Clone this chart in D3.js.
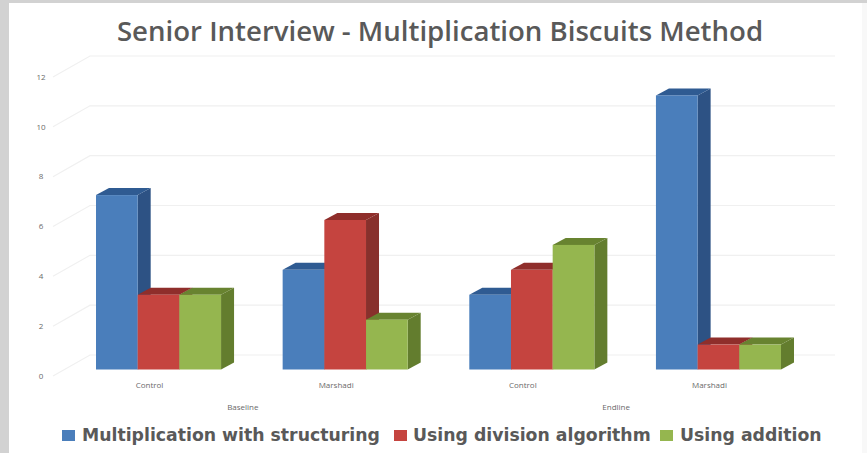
<!DOCTYPE html>
<html>
<head>
<meta charset="utf-8">
<script src="https://cdn.jsdelivr.net/npm/d3@7"></script>
<style>
  html, body { margin: 0; padding: 0; background: #fff; }
  svg { display: block; }
</style>
</head>
<body>
<svg id="chart" width="867" height="453"></svg>
<script>
const titleText = "Senior Interview - Multiplication Biscuits Method";
const periods = ["Baseline", "Endline"];
const groups = ["Control", "Marshadi", "Control", "Marshadi"];
const seriesNames = ["Multiplication with structuring", "Using division algorithm", "Using addition"];
const structuring = [7, 4, 3, 11];
const division = [3, 6, 4, 1];
const addition = [3, 2, 5, 1];
const yTicks = [0, 2, 4, 6, 8, 10, 12];

const frontColors = ["#4a7ebb", "#c5443f", "#95b64f"];
const topColors = ["#2f5b92", "#8f2e2b", "#688330"];
const sideColors = ["#2d5284", "#88302c", "#637d2e"];

const svg = d3.select("#chart");

// Page frame around the white panel: grey on the left and top, barely visible on the right
svg.append("rect").attr("width", 867).attr("height", 453).attr("fill", "#f8f8f8");
svg.append("rect").attr("width", 9).attr("height", 453).attr("fill", "#d2d2d2");
svg.append("rect").attr("width", 867).attr("height", 3).attr("fill", "#d2d2d2");
svg.append("rect").attr("x", 9).attr("y", 3).attr("width", 853).attr("height", 450).attr("fill", "#fff");

// Projection of the 3-D box: wall is offset from the tick edge, bars sit mid-depth
const y = d3.scaleLinear().domain([0, 12]).range([369.5, 70.5]);
const wallShift = { x: 37, y: -21 };
const barDepth = { x: 13, y: -7 };
const tickEdgeX = 53;
const wallRight = 835;
const tickY = v => y(v) + 6.5;

const xGroup = d3.scaleBand().domain(d3.range(groups.length)).range([96, 781]).paddingInner(0.33).paddingOuter(0);
const xBar = d3.scaleBand().domain(d3.range(seriesNames.length)).range([0, xGroup.bandwidth()]);

// Gridlines on the side and back walls
const grid = svg.append("g").attr("fill", "none").attr("stroke", "#f0f0f0").attr("stroke-width", 1.2);
grid.selectAll("path").data(yTicks).join("path")
  .attr("d", v => {
    const p = d3.path();
    p.moveTo(tickEdgeX, tickY(v));
    p.lineTo(tickEdgeX + wallShift.x, tickY(v) + wallShift.y);
    p.lineTo(wallRight, tickY(v) + wallShift.y);
    return p.toString();
  });

// Value labels
svg.append("g").selectAll("text").data(yTicks).join("text")
  .attr("x", 41).attr("y", v => tickY(v))
  .attr("dy", "0.35em").attr("text-anchor", "middle")
  .attr("font-family", "'Open Sans', sans-serif").attr("font-size", 8).attr("fill", "#6a6a6a")
  .text(d => d);

// Bars, painted left to right so each box overlaps the previous side face
const rows = groups.map((g, i) => [structuring[i], division[i], addition[i]]);
const barsLayer = svg.append("g");
rows.forEach((vals, gi) => {
  vals.forEach((v, si) => {
    const x0 = xGroup(gi) + xBar(si);
    const x1 = x0 + xBar.bandwidth();
    const y0 = y(0), yv = y(v);
    const g = barsLayer.append("g");
    g.append("path").attr("fill", sideColors[si]).attr("d",
      `M${x1},${y0}L${x1 + barDepth.x},${y0 + barDepth.y}L${x1 + barDepth.x},${yv + barDepth.y}L${x1},${yv}Z`);
    g.append("path").attr("fill", topColors[si]).attr("d",
      `M${x0},${yv}L${x0 + barDepth.x},${yv + barDepth.y}L${x1 + barDepth.x},${yv + barDepth.y}L${x1},${yv}Z`);
    g.append("rect").attr("x", x0).attr("y", yv).attr("width", x1 - x0).attr("height", y0 - yv).attr("fill", frontColors[si]);
  });
});

// Category labels and the period level below them
svg.append("g").selectAll("text").data(groups).join("text")
  .attr("x", (d, i) => xGroup(i) + xGroup.bandwidth() / 2 - 9)
  .attr("y", 388).attr("text-anchor", "middle")
  .attr("font-family", "'Open Sans', sans-serif").attr("font-size", 8).attr("fill", "#6a6a6a")
  .text(d => d);
svg.append("g").selectAll("text").data(periods).join("text")
  .attr("x", (d, i) => (xGroup(i * 2) + xGroup(i * 2 + 1) + xGroup.bandwidth()) / 2 - 9)
  .attr("y", 410).attr("text-anchor", "middle")
  .attr("font-family", "'Open Sans', sans-serif").attr("font-size", 8).attr("fill", "#6a6a6a")
  .text(d => d);

// Title
svg.append("text").attr("x", 440).attr("y", 41).attr("text-anchor", "middle")
  .attr("font-family", "'Open Sans', sans-serif").attr("font-weight", 600).attr("font-size", 27.6)
  .attr("fill", "#595959").text(titleText);

// Legend
const legendSwatchX = [62, 394, 660];
const legendTextX = [82, 413, 680];
const legend = svg.append("g");
seriesNames.forEach((name, i) => {
  legend.append("rect").attr("x", legendSwatchX[i]).attr("y", 430).attr("width", 13).attr("height", 11).attr("fill", frontColors[i]);
  legend.append("text").attr("x", legendTextX[i]).attr("y", 441)
    .attr("font-family", "'DejaVu Sans', sans-serif").attr("font-weight", "bold").attr("font-size", 17.3)
    .attr("fill", "#595959").text(name);
});
</script>
</body>
</html>
